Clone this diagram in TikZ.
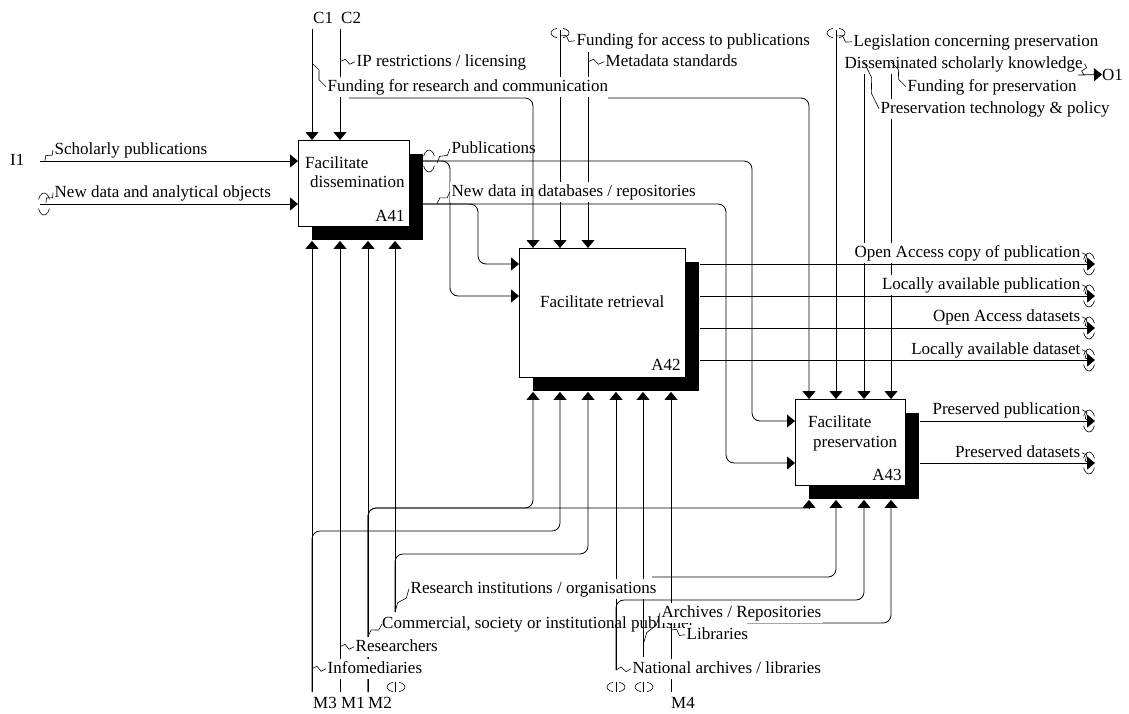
\documentclass[tikz,border=0pt]{standalone}
\usepackage{fontspec}
\setmainfont{Liberation Serif}
\usetikzlibrary{arrows.meta,calc,shadows}
\newcommand\lblstrut{\rule[-4.5pt]{0pt}{17.5pt}}

\begin{document}
\begin{tikzpicture}[
  x=1pt, y=-1pt,
  every node/.style={font=\fontsize{17}{19}\selectfont, inner sep=0pt},
  fbox/.style={draw, line width=0.9pt, fill=white, anchor=north west,
               drop shadow={shadow xshift=14pt, shadow yshift=-14pt, opacity=1, fill=black}},
  ln/.style={line width=0.8pt, rounded corners=8pt},
  arr/.style={ln, -{Triangle[length=8pt,width=13pt]}},
  lbl/.style={anchor=base west, inner sep=1.5pt, fill=white, execute at begin node=\lblstrut},
  lblr/.style={lbl, anchor=base east},
  tag/.style={anchor=base west},
  squig/.style={line width=0.6pt,
    to path={-- ($(\tikztostart)!0.35!(\tikztotarget)!2.5pt!90:(\tikztotarget)$)
             -- ($(\tikztostart)!0.65!(\tikztotarget)!2.5pt!-90:(\tikztotarget)$)
             -- (\tikztotarget)}},
  tunv/.pic={
    \draw[line width=0.6pt] (110:9 and 5) arc[start angle=110, end angle=250, x radius=9, y radius=5];
    \draw[line width=0.6pt] (-70:9 and 5) arc[start angle=-70, end angle=70, x radius=9, y radius=5];},
  tunh/.pic={
    \draw[line width=0.6pt] (25:6 and 11) arc[start angle=25, end angle=155, x radius=6, y radius=11];
    \draw[line width=0.6pt] (205:6 and 11) arc[start angle=205, end angle=335, x radius=6, y radius=11];},
]
\useasboundingbox (0,0) rectangle (1129,713);

% ---- activity boxes ----
\node[fbox, minimum width=111pt, minimum height=86pt] (a41) at (298,140) {};
\node[fbox, minimum width=166pt, minimum height=129pt] (a42) at (519,248) {};
\node[fbox, minimum width=110pt, minimum height=86pt] (a43) at (795,399) {};
\node[tag] (t41a) at (305,168) {Facilitate};
\node[tag] (t41b) at (310,187) {dissemination};
\node[anchor=base east] (n41) at ([xshift=-5pt,yshift=5pt]a41.south east) {A41};
\node[tag] (t42) at (540,307) {Facilitate retrieval};
\node[anchor=base east] (n42) at ([xshift=-5pt,yshift=7pt]a42.south east) {A42};
\node[tag] (t43a) at (808,427) {Facilitate};
\node[tag] (t43b) at (813,447) {preservation};
\node[anchor=base east] (n43) at ([xshift=-4pt,yshift=5pt]a43.south east) {A43};

% shadow edges where the arrows start and end
\coordinate (a41b) at ([yshift=-14pt]a41.south);
\coordinate (a42b) at ([yshift=-14pt]a42.south);
\coordinate (a43b) at ([yshift=-14pt]a43.south);
\coordinate (a42r) at ([xshift=14pt]a42.east);
\coordinate (a43r) at ([xshift=14pt]a43.east);

% ---- controls ----
\coordinate (c1) at (312,29);
\coordinate (c2) at (340,29);
\draw[arr] (c1) -- (c1 |- a41.north);
\draw[arr] (c2) -- (c2 |- a41.north);
\coordinate (fa) at (560,30);
\coordinate (md) at (588,52);
\draw[arr] (fa) -- (fa |- a42.north);
\draw[arr] (md) -- (md |- a42.north);
\coordinate (lg) at (836,30);
\coordinate (pt) at (864,58);
\coordinate (fp) at (891,58);
\draw[arr] (lg) -- (lg |- a43.north);
\draw[arr] (pt) -- (pt |- a43.north);
\draw[arr] (fp) -- (fp |- a43.north);
\pic at (560,33) {tunv};
\pic at (836,33) {tunv};

% ---- inputs ----
\coordinate (i1) at (40,161);
\coordinate (i2) at (40,204);
\draw[arr] (i1) -- (i1 -| a41.west);
\draw[arr] (i2) -- (i2 -| a41.west);
\pic at (44,204) {tunh};

% ---- A41 outputs feeding A42 / A43 ----
\coordinate (pub) at (423,161);
\coordinate (ndb) at (423,204);
\draw[arr] (pub) -| (752,421) -- (752,421 -| a43.west);
\draw[arr] (pub) -| (450,296) -- (450,296 -| a42.west);
\draw[arr] (ndb) -| (726,463) -- (726,463 -| a43.west);
\draw[arr] (ndb) -| (478,264) -- (478,264 -| a42.west);
\pic at (429,161) {tunh};

% ---- mechanisms ----
\coordinate (m3) at (312,692);
\coordinate (m1) at (340,692);
\coordinate (m2) at (368,692);
\coordinate (mr) at (395,612);
\coordinate (mn) at (616,670);
\coordinate (ma) at (643,657);
\coordinate (m4) at (671,692);
\draw[arr] (m3) -- (m3 |- a41b);
\draw[arr] (m1) -- (m1 |- a41b);
\draw[arr] (m2) -- (m2 |- a41b);
\draw[arr] (mr) -- (mr |- a41b);
\draw[arr] (m2) |- (533,508) -- (533,0 |- a42b);
\draw[arr] (m3) |- (560,531) -- (560,0 |- a42b);
\draw[arr] (mr) |- (588,554) -- (588,0 |- a42b);
\draw[arr] (mn) -- (mn |- a42b);
\draw[arr] (ma) -- (ma |- a42b);
\draw[arr] (m4) -- (m4 |- a42b);
\draw[ln] (m2) |- (809,508);
\draw[arr] (809,508) -- (809,0 |- a43b);
\draw[arr] (mn) |- (864,600) -- (864,0 |- a43b);
\coordinate (ma2) at (652,577);
\coordinate (m42) at (747,623);
\draw[arr] (ma2) -| (836,0 |- a43b);
\draw[arr] (m42) -| (891,0 |- a43b);
\draw[line width=0.8pt] (395,682) -- (395,692);
\draw[line width=0.8pt] (616,682) -- (616,692);
\draw[line width=0.8pt] (643,682) -- (643,692);
\pic at (396,687) {tunv};
\pic at (616,687) {tunv};
\pic at (644,687) {tunv};

% ---- outputs ----
\coordinate (oa) at (1095,264);
\coordinate (lp) at (1095,296);
\coordinate (od) at (1095,328);
\coordinate (ld) at (1095,360);
\coordinate (pp) at (1095,421);
\coordinate (pd) at (1095,463);
\draw[arr] (oa -| a42r) -- (oa);
\draw[arr] (lp -| a42r) -- (lp);
\draw[arr] (od -| a42r) -- (od);
\draw[arr] (ld -| a42r) -- (ld);
\draw[arr] (pp -| a43r) -- (pp);
\draw[arr] (pd -| a43r) -- (pd);
\pic at (1089,264) {tunh};
\pic at (1089,296) {tunh};
\pic at (1089,328) {tunh};
\pic at (1089,360) {tunh};
\pic at (1089,421) {tunh};
\pic at (1089,463) {tunh};

% ---- arrow labels ----
\node[tag] (c1l) at (313,23) {C1};
\node[tag] (c2l) at (341,23) {C2};
\node[lbl] (ipl) at (355,66) {IP restrictions / licensing};
\node[lbl] (frl) at (326,91) {Funding for research and communication};
\node[lbl] (fal) at (575,45) {Funding for access to publications};
\node[lbl] (mdl) at (604,66) {Metadata standards};
\node[lbl] (lgl) at (852,46) {Legislation concerning preservation};
\node[lbl] (dsl) at (843,68) {Disseminated scholarly knowledge};
\node[lbl] (fpl) at (906,91) {Funding for preservation};
\node[lbl] (ptl) at (879,113) {Preservation technology \& policy};
\node[tag] (o1l) at (1102,80) {O1};
\node[tag] (i1l) at (10,165) {I1};
\node[lbl] (schl) at (53,154) {Scholarly publications};
\node[lbl] (ndl) at (53,197) {New data and analytical objects};
\node[lbl] (pbl) at (450,153) {Publications};
\node[lbl] (ndbl) at (450,196) {New data in databases / repositories};
\node[lblr] (oal) at (1082,257) {Open Access copy of publication};
\node[lblr] (lpl) at (1082,289) {Locally available publication};
\node[lblr] (odl) at (1082,321) {Open Access datasets};
\node[lblr] (ldl) at (1082,354) {Locally available dataset};
\node[lblr] (ppl) at (1082,414) {Preserved publication};
\node[lblr] (pdl) at (1082,457) {Preserved datasets};
\node[lbl] (rinl) at (409,593) {Research institutions / organisations};
\node[tag] (coml) at (382,628) {Commercial, society or institutional publisher};
\node[lbl] (resl) at (354,651) {Researchers};
\node[lbl] (infl) at (326,673) {Infomediaries};
\node[lbl] (arcl) at (660,617) {Archives / Repositories};
\node[lbl] (libl) at (685,639) {Libraries};
\node[lbl] (natl) at (631,673) {National archives / libraries};
\node[tag] (m3l) at (313,708) {M3};
\node[tag] (m1l) at (341,708) {M1};
\node[tag] (m2l) at (368,708) {M2};
\node[tag] (m4l) at (671,708) {M4};

% funding branch, drawn over the label backgrounds
\coordinate (fr1) at (349,98);
\coordinate (fr2) at (608,98);
\draw[arr] (fr1) -| (533,0 |- a42.north);
\draw[arr] (fr2) -| (809,0 |- a43.north);
% O1 stub
\coordinate (o1s) at (1078,75);
\draw[arr] (o1s) -- (o1l.west);

% ---- label leaders ----
\draw[squig] (45,161) to (schl.west);
\draw[squig] (46,203) to (ndl.west);
\draw[squig] (c2 |- ipl.west) to (ipl.west);
\draw[squig] (312,63) to (frl.west);
\draw[squig] (560,36) to (fal.west);
\draw[squig] (md |- mdl.west) to (mdl.west);
\draw[squig] (836,36) to (lgl.west);
\draw[squig] (dsl.east) to (1084,75);
\draw[squig] (891,62) to (fpl.west);
\draw[squig] (864,62) to (ptl.west);
\draw[squig] (437,163) to (pbl.west);
\draw[squig] (437,204) to (ndbl.west);
\draw[squig] (oal.east) to (1090,264);
\draw[squig] (lpl.east) to (1090,296);
\draw[squig] (odl.east) to (1090,328);
\draw[squig] (ldl.east) to (1090,360);
\draw[squig] (ppl.east) to (1090,421);
\draw[squig] (pdl.east) to (1090,463);
\draw[squig] (m3 |- infl.west) to (infl.west);
\draw[squig] (m1 |- resl.west) to (resl.west);
\draw[squig] (368,636) to (coml.west);
\draw[squig] (mr) to (rinl.west);
\draw[squig] (mn) to (natl.west);
\draw[squig] (ma |- 0,645) to (arcl.west);
\draw[squig] (671,630) to (libl.west);
\end{tikzpicture}
\end{document}
